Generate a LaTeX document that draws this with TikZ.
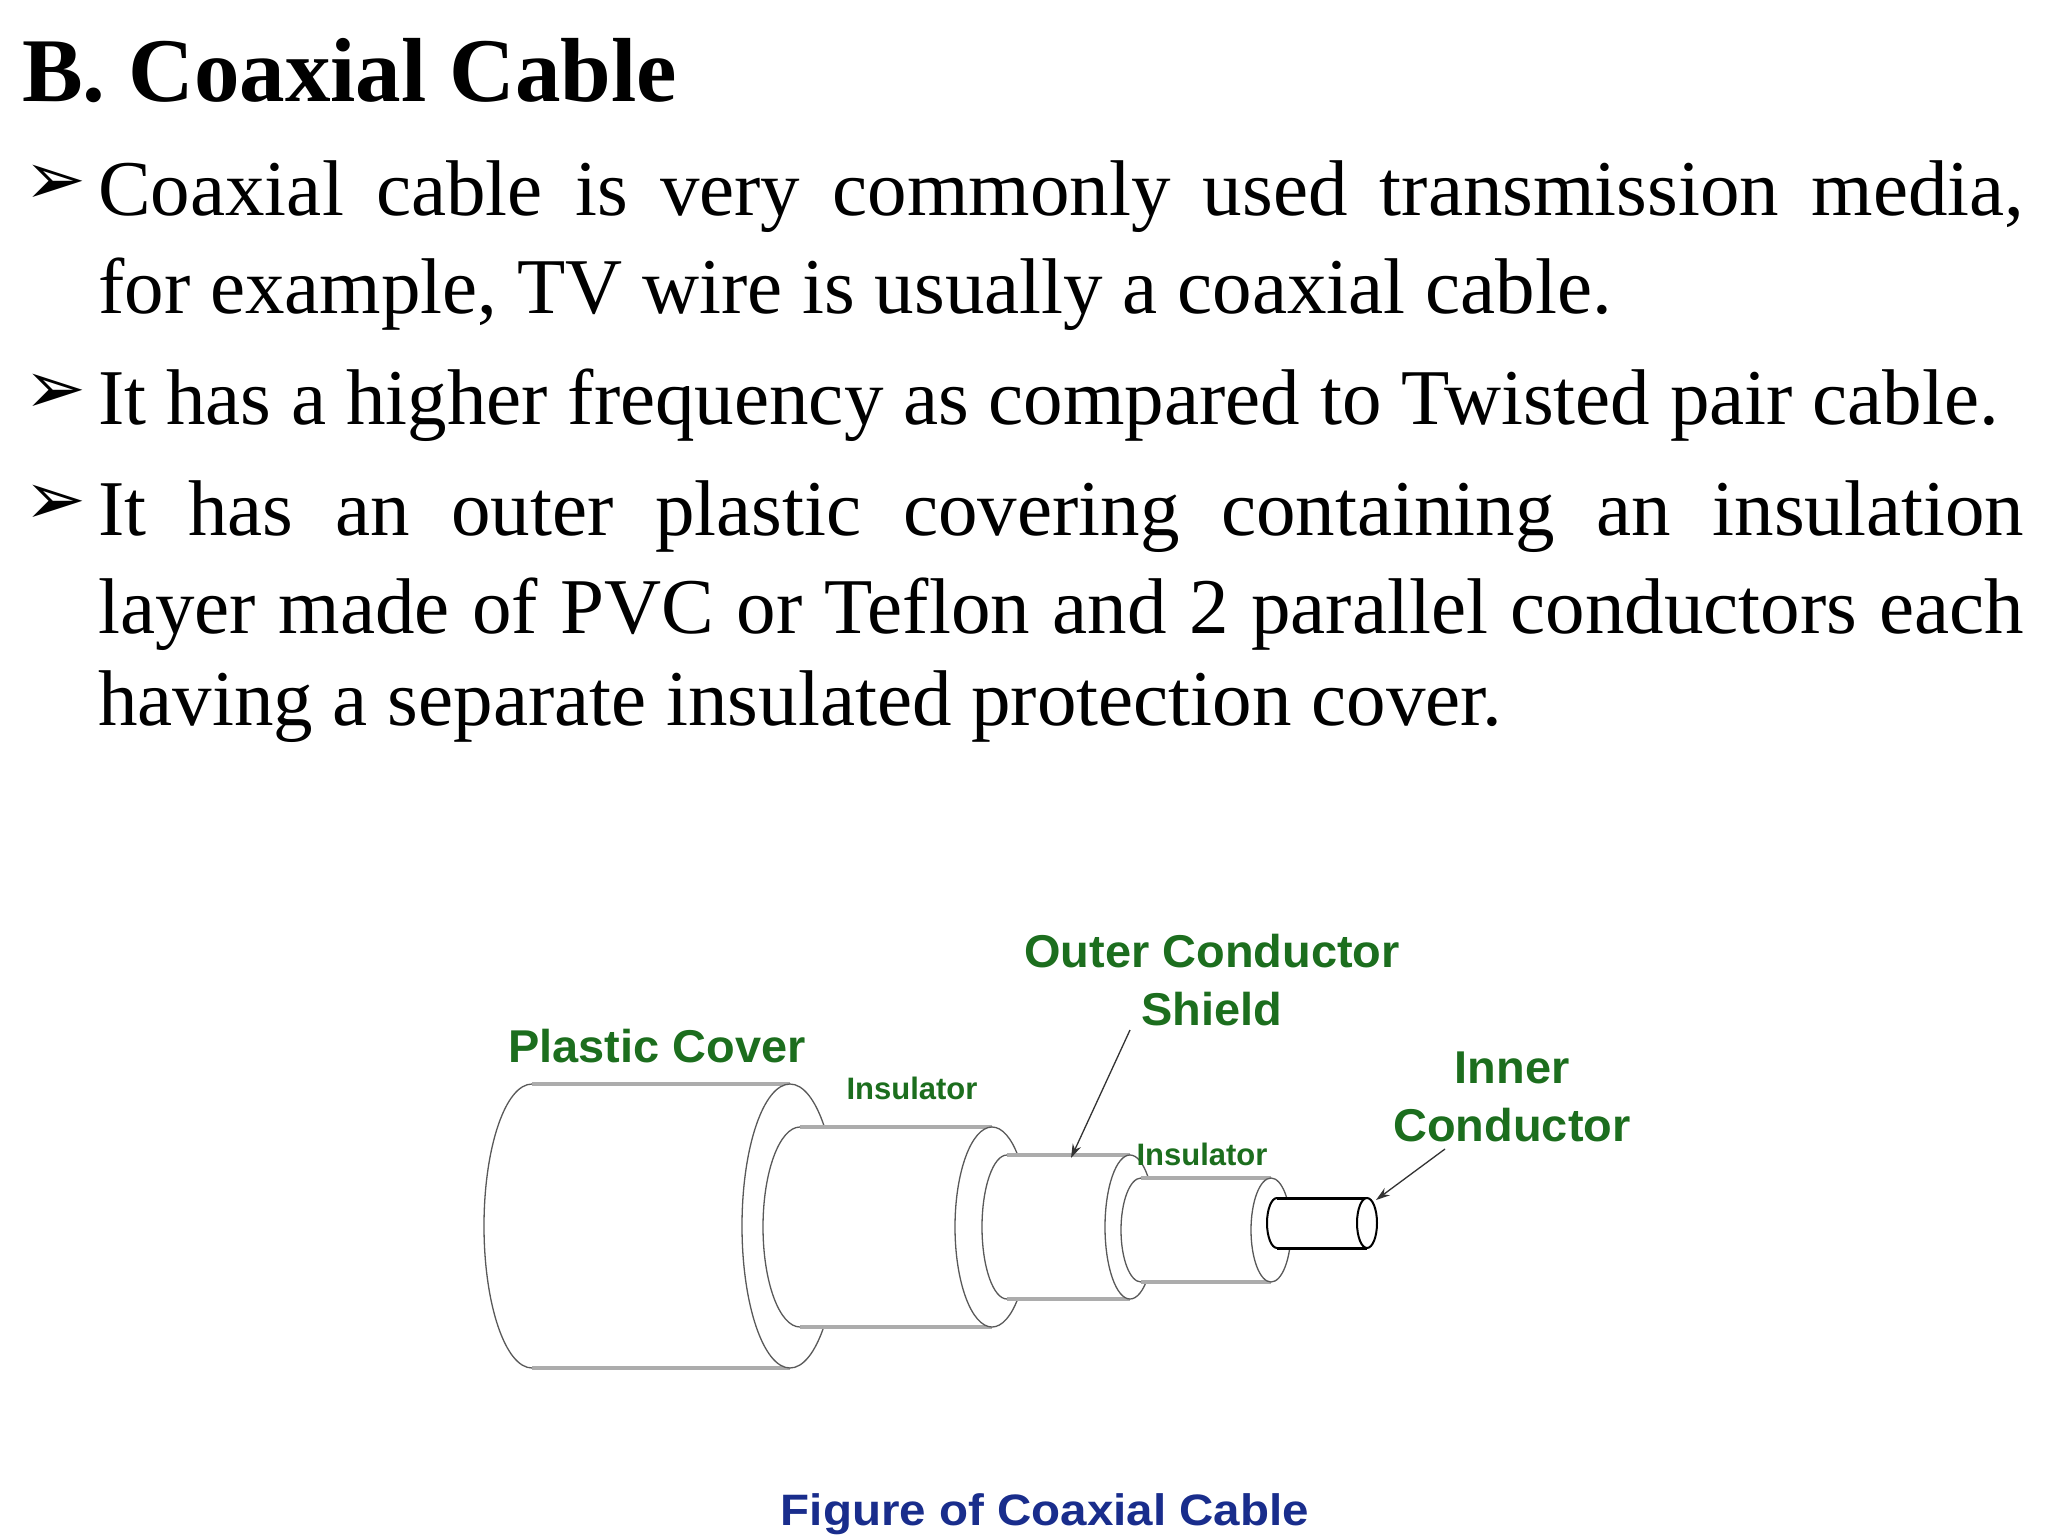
\documentclass[tikz,border=0pt]{standalone}
\usepackage{fontspec}
\usetikzlibrary{arrows.meta}
\setmainfont{Liberation Serif}
\newfontfamily\dejavu{DejaVu Sans}
\newfontfamily\lsans{Liberation Sans}
\definecolor{lblgreen}{RGB}{28,110,30}
\definecolor{capblue}{RGB}{25,45,140}
\newcommand\mycyl[5]{%
 \fill[white] (#1,{#3-#5}) arc[start angle=90,end angle=270,x radius=#4pt,y radius=#5pt] -- (#2,{#3+#5}) -- (#2,{#3-#5}) -- cycle;
 \draw[edge] (#1,{#3-#5}) -- (#2,{#3-#5});
 \draw[edge] (#1,{#3+#5}) -- (#2,{#3+#5});
 \draw[outl] (#1,{#3-#5}) arc[start angle=90,end angle=270,x radius=#4pt,y radius=#5pt];
 \draw[outl,fill=white] (#2,#3) ellipse[x radius=#4pt,y radius=#5pt];
}
\begin{document}
\begin{tikzpicture}[x=1pt,y=-1pt,
  edge/.style={gray!65,line width=4pt},
  outl/.style={gray!70!black,line width=1.3pt},
  body/.style={anchor=base west,inner sep=0pt,font=\fontsize{79}{98}\selectfont},
  bul/.style={anchor=base west,inner sep=0pt,font=\dejavu\fontsize{74}{76}\selectfont},
  lbl/.style={text=lblgreen,font=\lsans\bfseries\fontsize{46}{58}\selectfont,align=center,inner sep=0pt,xscale=1.02},
  slbl/.style={text=lblgreen,font=\lsans\bfseries\fontsize{31}{36}\selectfont,inner sep=0pt,xscale=1.0},
  arr/.style={-{Stealth[length=14pt,width=9pt]},line width=1.3pt,black!80}]
\useasboundingbox (0,0) rectangle (2048,1536);
\fill[white] (0,0) rectangle (2048,1536);
\node[anchor=base west,inner sep=0pt,font=\bfseries\fontsize{91}{100}\selectfont] (title) at (22,102) {B. Coaxial Cable};
\node[bul] (b1) at (24,204) {➢};
\node[bul] (b2) at (24,413) {➢};
\node[bul] (b3) at (24,524) {➢};
\node[body] (l1) at (98,215) {\makebox[1926pt][s]{Coaxial cable is very commonly used transmission media,}};
\node[body] (l2) at (98,313) {for example, TV wire is usually a coaxial cable.};
\node[body] (l3) at (98,424) {It has a higher frequency as compared to Twisted pair cable.};
\node[body] (l4) at (98,535) {\makebox[1926pt][s]{It has an outer plastic covering containing an insulation}};
\node[body] (l5) at (98,633) {\makebox[1926pt][s]{layer made of PVC or Teflon and 2 parallel conductors each}};
\node[body] (l6) at (98,725) {having a separate insulated protection cover.};
% cable
\mycyl{532}{790}{1226}{48}{142}
\mycyl{800}{992}{1227}{37}{100}
\mycyl{1007}{1130}{1227}{25}{72}
\mycyl{1141}{1271}{1230}{20}{52}
\begin{scope}[edge/.style={black,line width=3pt},outl/.style={black,line width=2pt}]
\mycyl{1277}{1367}{1223}{10}{25}
\end{scope}
% labels
\node[lbl] (ocs) at (1212,980) {Outer Conductor\\Shield};
\node[lbl] (pc) at (657,1046) {Plastic Cover};
\node[slbl] (ins1) at (912,1088) {Insulator};
\node[slbl] (ins2) at (1202,1154) {Insulator};
\node[lbl] (ic) at (1512,1097) {Inner\\Conductor};
\coordinate (ocsend) at (1071,1158);
\coordinate (icend) at (1376,1200);
\coordinate (ocsstart) at (1130,1030);
\coordinate (icstart) at (1445,1149);
\draw[arr] (ocsstart) -- (ocsend);
\draw[arr] (icstart) -- (icend);
\node[text=capblue,font=\lsans\bfseries\fontsize{44}{48}\selectfont,inner sep=0pt,xscale=1.08] (cap) at (1045,1514) {Figure of Coaxial Cable};
\end{tikzpicture}
\end{document}
